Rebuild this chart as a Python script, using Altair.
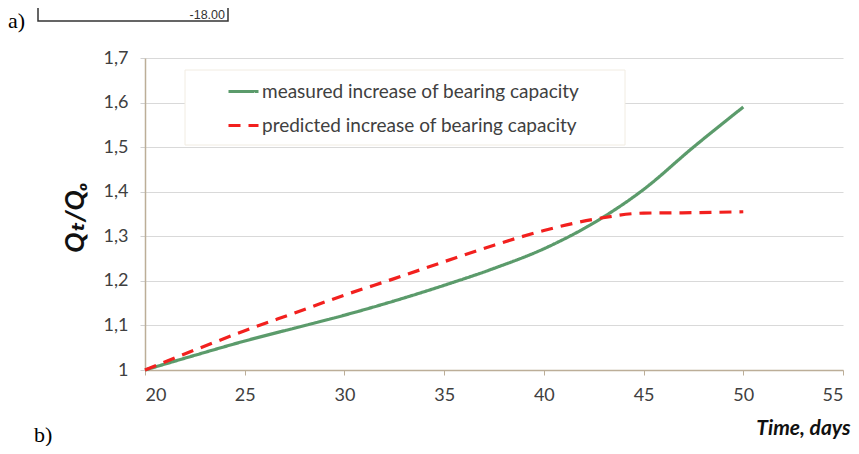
import altair as alt
import pandas as pd

days = [20, 22.5, 25, 27.5, 30, 32.5, 35, 37.5, 40, 42.5, 45, 47.5, 50]
measured = [1.0, 1.033, 1.065, 1.094, 1.123, 1.155, 1.19, 1.228, 1.272, 1.33, 1.405, 1.50, 1.59]
predicted = [1.0, 1.045, 1.088, 1.128, 1.168, 1.205, 1.243, 1.28, 1.313, 1.338, 1.352, 1.353, 1.355]
series_names = ["measured increase of bearing capacity", "predicted increase of bearing capacity"]
series_colors = ["#5b9b6b", "#f2201e"]
x_ticks = [20, 25, 30, 35, 40, 45, 50, 55]
y_ticks = [1.0, 1.1, 1.2, 1.3, 1.4, 1.5, 1.6, 1.7]

rows = []
for d, m in zip(days, measured):
    rows.append({"day": d, "ratio": m, "series": series_names[0]})
for d, p in zip(days, predicted):
    rows.append({"day": d, "ratio": p, "series": series_names[1]})
df = pd.DataFrame(rows)

FONT = "Lato, DejaVu Sans"
leg = alt.Legend(title=None, orient="none", legendX=77, legendY=12)

legend_bg = alt.Chart(pd.DataFrame({"k": [0]})).mark_rect(
    fill="white", stroke="#f1ece2", strokeWidth=1
).encode(x=alt.value(40), x2=alt.value(480), y=alt.value(12), y2=alt.value(87))

lines = alt.Chart(df).mark_line(strokeWidth=3.2, interpolate="monotone").encode(
    x=alt.X("day:Q", scale=alt.Scale(domain=[20, 55], nice=False),
            axis=alt.Axis(values=x_ticks, title="Time, days", grid=False,
                          titleX=705, titleY=58, titleAlign="right", titleBaseline="middle",
                          titleFontStyle="italic", titleFontWeight="bold", titleFontSize=21,
                          labelPadding=11, tickSize=5)),
    y=alt.Y("ratio:Q", scale=alt.Scale(domain=[1, 1.7], nice=False, zero=False),
            axis=alt.Axis(values=y_ticks, title="Qₜ/Qₒ", grid=True,
                          labelExpr="datum.value == 1 ? '1' : replace(format(datum.value, '.1f'), '.', ',')",
                          titleX=-70, titleY=159, titleAngle=270, titleAlign="center",
                          titleBaseline="middle", titleFontStyle="italic", titleFontWeight="bold",
                          titleFontSize=27, labelPadding=12, tickSize=5,
                          tickColor="#d0d0d0")),
    color=alt.Color("series:N", scale=alt.Scale(domain=series_names, range=series_colors), legend=leg),
    strokeDash=alt.StrokeDash("series:N", scale=alt.Scale(domain=series_names, range=[[1, 0], [12, 8]]), legend=leg),
)

note_a = alt.Chart(pd.DataFrame({"t": ["a)"]})).mark_text(
    font="Liberation Serif", fontSize=22, align="left", baseline="alphabetic", color="#000"
).encode(x=alt.value(-137), y=alt.value(-30), text="t:N")

note_b = alt.Chart(pd.DataFrame({"t": ["b)"]})).mark_text(
    font="Liberation Serif", fontSize=22, align="left", baseline="alphabetic", color="#000"
).encode(x=alt.value(-111), y=alt.value(384), text="t:N")

box = alt.Chart(pd.DataFrame({"k": [0]})).mark_rect(
    fillOpacity=0, stroke="#333", strokeWidth=1.5
).encode(x=alt.value(-107), x2=alt.value(83), y=alt.value(-75), y2=alt.value(-37))

box_text = alt.Chart(pd.DataFrame({"t": ["-18.00"]})).mark_text(
    font="Liberation Sans", fontSize=12.5, align="right", baseline="alphabetic", color="#333"
).encode(x=alt.value(80), y=alt.value(-39), text="t:N")

chart = alt.layer(legend_bg, lines, note_a, note_b, box, box_text).properties(
    width=698, height=312,
    autosize=alt.AutoSizeParams(type="none"),
    padding={"left": 137, "top": 50, "right": 8, "bottom": 76},
).configure_view(stroke=None).configure_axis(
    labelFont=FONT, titleFont=FONT, labelFontSize=18, labelColor="#404040",
    titleColor="#111", domainColor="#bcae98", domainWidth=1.5, tickColor="#bcae98",
    gridColor="#d9d9d9", gridWidth=1.2,
).configure_legend(
    labelFont=FONT, labelFontSize=19, labelColor="#404040", symbolType="stroke",
    symbolSize=900, symbolStrokeWidth=3, labelOffset=2, rowPadding=7,
    padding=5, labelLimit=600,
)

chart.save("out.html", embed_options={"renderer": "svg", "actions": False})
